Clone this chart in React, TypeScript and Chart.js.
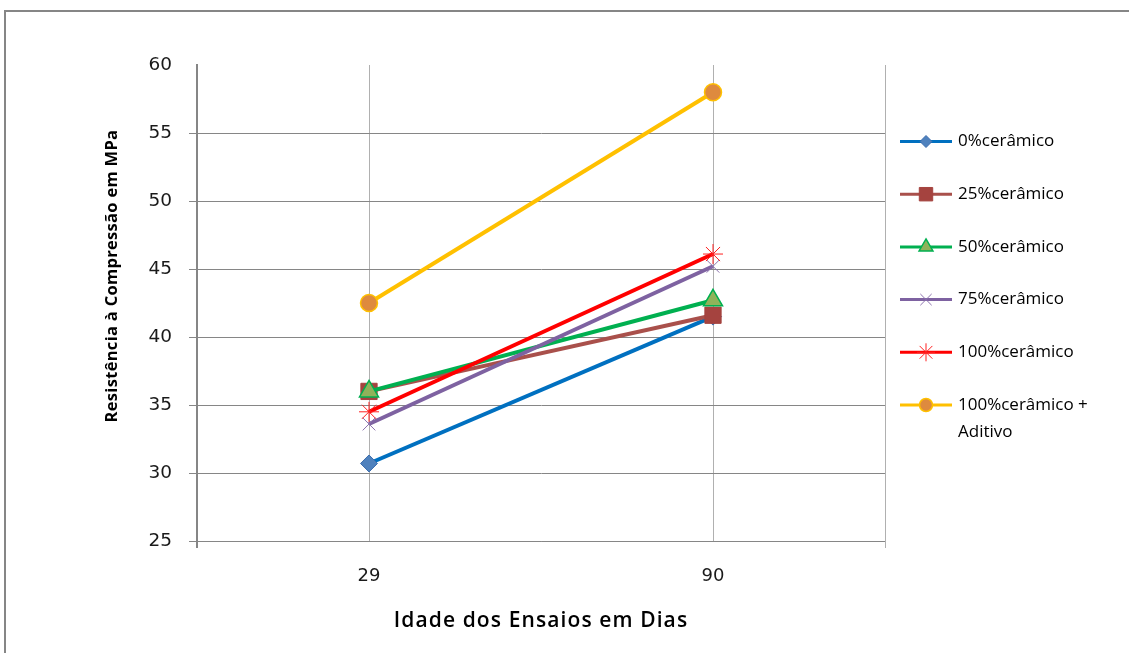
import { useEffect, useRef } from 'react';
import { Chart, registerables } from 'chart.js';
import { drawPoint } from 'chart.js/helpers';

Chart.register(...registerables);

// Test ages (days)
const ages = ['29', '90'];

// Compressive strength (MPa) per mix
const ceramico0 = [30.7, 41.5];
const ceramico25 = [36.0, 41.6];
const ceramico50 = [36.0, 42.7];
const ceramico75 = [33.6, 45.2];
const ceramico100 = [34.5, 46.1];
const ceramico100Aditivo = [42.5, 58.0];

const seriesNames = [
  ['0%cerâmico'],
  ['25%cerâmico'],
  ['50%cerâmico'],
  ['75%cerâmico'],
  ['100%cerâmico'],
  ['100%cerâmico +', 'Aditivo'],
];
const seriesValues = [ceramico0, ceramico25, ceramico50, ceramico75, ceramico100, ceramico100Aditivo];

const yMin = 25;
const yMax = 60;
const yStep = 5;

const yTitle = 'Resistência à Compressão em MPa';
const xTitle = 'Idade dos Ensaios em Dias';

const styles = [
  { line: '#0070C0', fill: '#4F81BD', stroke: '#3C6DAE', point: 'rectRot', r: 8.5, lr: 6, bw: 1 },
  { line: '#A9504B', fill: '#A5433F', stroke: '#A5433F', point: 'rect', r: 11.5, lr: 9.5, bw: 1 },
  { line: '#00B050', fill: '#8FB25A', stroke: '#00B050', point: 'triangle', r: 11, lr: 8, bw: 1.5 },
  { line: '#7E62A1', fill: 'rgba(0,0,0,0)', stroke: '#8C72AE', point: 'crossRot', r: 9, lr: 8, bw: 1 },
  { line: '#FF0000', fill: 'rgba(0,0,0,0)', stroke: '#FF2020', point: 'star', r: 10, lr: 9, bw: 1 },
  { line: '#FFC000', fill: '#DE8A3E', stroke: '#FFC000', point: 'circle', r: 8.5, lr: 6.5, bw: 1.5 },
];

const frameAndLegend = {
  id: 'frameAndLegend',
  beforeDraw(chart: any) {
    const { ctx } = chart;
    ctx.save();
    ctx.fillStyle = '#fff';
    ctx.fillRect(0, 0, chart.width, chart.height);
    // outer frame (top and left edges)
    ctx.fillStyle = '#868686';
    ctx.fillRect(4, 10, chart.width - 4, 2);
    ctx.fillRect(4, 10, 2, chart.height - 10);
    ctx.restore();
  },
  beforeDatasetsDraw(chart: any) {
    const { ctx, chartArea } = chart;
    ctx.save();
    // right edge of the plot area
    ctx.strokeStyle = '#B0B0B0';
    ctx.lineWidth = 1;
    ctx.beginPath();
    ctx.moveTo(chartArea.right + 0.5, chartArea.top);
    ctx.lineTo(chartArea.right + 0.5, chartArea.bottom + 7);
    ctx.stroke();
    // value axis continues a little below the category axis
    ctx.strokeStyle = '#868686';
    ctx.lineWidth = 2;
    ctx.beginPath();
    ctx.moveTo(chartArea.left, chartArea.bottom);
    ctx.lineTo(chartArea.left, chartArea.bottom + 7);
    ctx.stroke();
    ctx.restore();
  },
  afterDraw(chart: any) {
    const { ctx, chartArea } = chart;

    // axis titles
    ctx.save();
    ctx.fillStyle = '#000';
    ctx.textAlign = 'center';
    ctx.textBaseline = 'middle';
    ctx.font = '600 21px "Open Sans"';
    ctx.letterSpacing = '1.1px';
    ctx.fillText(xTitle, (chartArea.left + chartArea.right) / 2, 621);
    ctx.translate(112, 276);
    ctx.rotate(-Math.PI / 2);
    ctx.font = 'bold 16.5px "Open Sans"';
    ctx.letterSpacing = '0.3px';
    ctx.fillText(yTitle, 0, 0);
    ctx.restore();

    // legend
    ctx.save();
    const x0 = chartArea.right + 15;
    const x1 = x0 + 52;
    const startY = 141.5;
    const gap = 52.7;
    seriesNames.forEach((lines, i) => {
      const s = styles[i];
      const y = startY + i * gap;
      ctx.strokeStyle = s.line;
      ctx.lineWidth = 3;
      ctx.beginPath();
      ctx.moveTo(x0, y);
      ctx.lineTo(x1, y);
      ctx.stroke();
      ctx.fillStyle = s.fill;
      ctx.strokeStyle = s.stroke;
      ctx.lineWidth = s.bw;
      drawPoint(ctx, { pointStyle: s.point, radius: s.lr, borderWidth: s.bw, rotation: 0 } as any, (x0 + x1) / 2, y);
      ctx.fillStyle = '#000';
      ctx.font = '17px "Open Sans"';
      ctx.textAlign = 'left';
      ctx.textBaseline = 'middle';
      lines.forEach((t, k) => ctx.fillText(t, x1 + 6, y + k * 27));
    });
    ctx.restore();
  },
};

export default function App() {
  const canvasRef = useRef<HTMLCanvasElement | null>(null);

  useEffect(() => {
    const canvas = canvasRef.current;
    if (!canvas) return;
    const n = seriesValues.length;
    const chart = new Chart(canvas, {
      type: 'line',
      data: {
        labels: ages,
        datasets: seriesValues.map((vals, i) => ({
          label: seriesNames[i].join(' '),
          data: vals,
          order: n - i,
          borderColor: styles[i].line,
          borderWidth: 4,
          tension: 0,
          pointStyle: styles[i].point as any,
          pointRadius: styles[i].r,
          pointHoverRadius: styles[i].r,
          pointBackgroundColor: styles[i].fill,
          pointBorderColor: styles[i].stroke,
          pointBorderWidth: styles[i].bw,
          fill: false,
        })),
      },
      options: {
        responsive: false,
        animation: false,
        devicePixelRatio: 1,
        layout: { padding: { top: 65, right: 244, left: 0, bottom: 0 } },
        plugins: {
          legend: { display: false },
          tooltip: { enabled: false },
        },
        scales: {
          x: {
            type: 'category',
            offset: true,
            afterFit: (scale: any) => {
              scale.height = 112;
            },
            grid: {
              offset: false,
              color: '#B0B0B0',
              lineWidth: 1,
              drawTicks: false,
            },
            border: { color: '#868686', width: 1 },
            ticks: {
              padding: 25,
              color: '#1a1a1a',
              font: { family: '"DejaVu Sans"', size: 18, lineHeight: 1.2 },
            },
          },
          y: {
            min: yMin,
            max: yMax,
            afterFit: (scale: any) => {
              scale.width = 197;
            },
            grid: {
              color: (c: any) => (c.tick && c.tick.value === yMax ? 'rgba(0,0,0,0)' : '#868686'),
              lineWidth: 1,
              tickLength: 8,
              drawTicks: true,
            },
            border: { color: '#868686', width: 2 },
            ticks: {
              stepSize: yStep,
              padding: 17,
              color: '#1a1a1a',
              font: { family: '"DejaVu Sans"', size: 18.5, lineHeight: 1.2 },
            },
          },
        },
      },
      plugins: [frameAndLegend],
    });
    return () => chart.destroy();
  }, []);

  return (
    <div style={{ position: 'fixed', left: 0, top: 0, width: 1129, height: 653, background: '#fff' }}>
      <canvas ref={canvasRef} width={1129} height={653} style={{ display: 'block' }} />
    </div>
  );
}
